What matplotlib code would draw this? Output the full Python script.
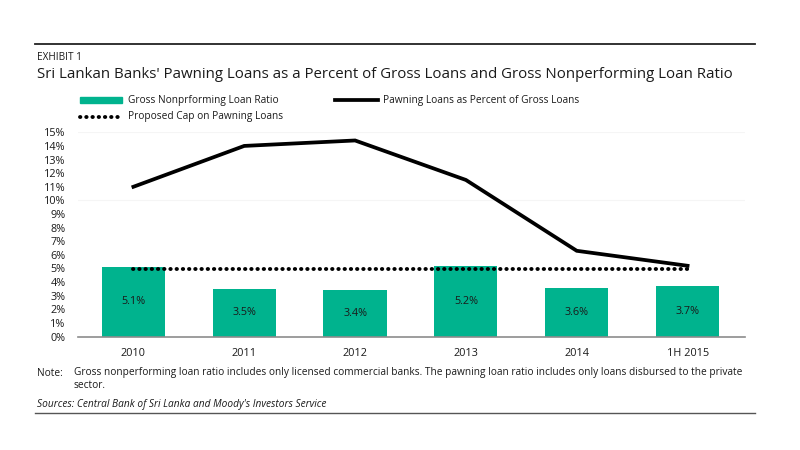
import matplotlib
matplotlib.use("Agg")
import matplotlib.pyplot as plt
from matplotlib.lines import Line2D
from matplotlib.patches import Rectangle
import numpy as np

plt.rcParams["font.family"] = ["Open Sans", "DejaVu Sans"]

# data
years = ["2010", "2011", "2012", "2013", "2014", "1H 2015"]
npl_ratio = [5.1, 3.5, 3.4, 5.2, 3.6, 3.7]
pawning_pct = [11.0, 14.0, 14.4, 11.5, 6.3, 5.2]
proposed_cap = [5.0, 5.0, 5.0, 5.0, 5.0, 5.0]
y_ticks = list(range(0, 16))

TEAL = "#00b38e"
TXT = "#1a1a1a"
DOTS = (0, (0.1, 1.5))

fig = plt.figure(figsize=(8, 4.5), dpi=100)
ax = fig.add_axes([0.0975, 0.252, 0.834, 0.454])

x = np.arange(len(years))
ax.bar(x, npl_ratio, width=0.57, color=TEAL, zorder=2)
for xi, v in zip(x, npl_ratio):
    ax.text(xi, v / 2, f"{v:.1f}%", ha="center", va="center", fontsize=7.8, color=TXT, zorder=4)
ax.plot(x, pawning_pct, color="black", linewidth=2.7, solid_joinstyle="miter", zorder=3)
ax.plot(x, proposed_cap, color="black", linestyle=DOTS, linewidth=2.8,
        dash_capstyle="round", zorder=3)

ax.set_xlim(-0.5, 5.52)
ax.set_ylim(0, 15)
ax.set_yticks(y_ticks)
ax.set_yticklabels([f"{t}%" for t in y_ticks])
ax.set_xticks(x)
ax.set_xticklabels(years)
ax.tick_params(axis="both", length=0, labelsize=7.8, colors=TXT)
ax.tick_params(axis="y", pad=9)
ax.tick_params(axis="x", pad=8)
for sp in ["top", "right", "left"]:
    ax.spines[sp].set_visible(False)
ax.spines["bottom"].set_color("#8c8c8c")
ax.spines["bottom"].set_linewidth(1.2)
# very faint guide lines, barely visible in the original
for g in [10, 15]:
    ax.axhline(g, color="#f5f5f5", linewidth=0.8, zorder=0)

# header
fig.add_artist(Line2D([0.044, 0.944], [1 - 44 / 450] * 2, color="#222222", linewidth=1.3))
fig.text(0.046, 1 - 57 / 450, "EXHIBIT 1", fontsize=7.2, color=TXT, va="center")
fig.text(0.046, 1 - 74 / 450,
         "Sri Lankan Banks' Pawning Loans as a Percent of Gross Loans and Gross Nonperforming Loan Ratio",
         fontsize=10.8, color=TXT, va="center")

# legend (hand placed, two rows)
ly1, ly2 = 1 - 100 / 450, 1 - 117 / 450
fig.add_artist(Rectangle((80 / 800, ly1 - 3 / 450), 42 / 800, 6 / 450, color=TEAL))
fig.text(128 / 800, ly1, "Gross Nonprforming Loan Ratio", fontsize=7.3, color=TXT, va="center")
fig.add_artist(Line2D([335 / 800, 378 / 800], [ly1, ly1], color="black", linewidth=2.7))
fig.text(383 / 800, ly1, "Pawning Loans as Percent of Gross Loans", fontsize=7.3, color=TXT, va="center")
fig.add_artist(Line2D([80 / 800, 122 / 800], [ly2, ly2], color="black", linewidth=2.8,
                      linestyle=DOTS, dash_capstyle="round"))
fig.text(128 / 800, ly2, "Proposed Cap on Pawning Loans", fontsize=7.3, color=TXT, va="center")

# footer
fig.text(0.046, 1 - 373 / 450, "Note:", fontsize=7.3, color=TXT, va="center")
fig.text(74 / 800, 1 - 373 / 450,
         "Gross nonperforming loan ratio includes only licensed commercial banks. "
         "The pawning loan ratio includes only loans disbursed to the private",
         fontsize=7.3, color=TXT, va="center")
fig.text(74 / 800, 1 - 386 / 450, "sector.", fontsize=7.3, color=TXT, va="center")
fig.text(0.046, 1 - 404 / 450,
         "Sources: Central Bank of Sri Lanka and Moody's Investors Service",
         fontsize=7.3, color=TXT, va="center", style="italic")
fig.add_artist(Line2D([0.044, 0.944], [1 - 413 / 450] * 2, color="#555555", linewidth=1.0))

fig.savefig("out.png", dpi=100)
